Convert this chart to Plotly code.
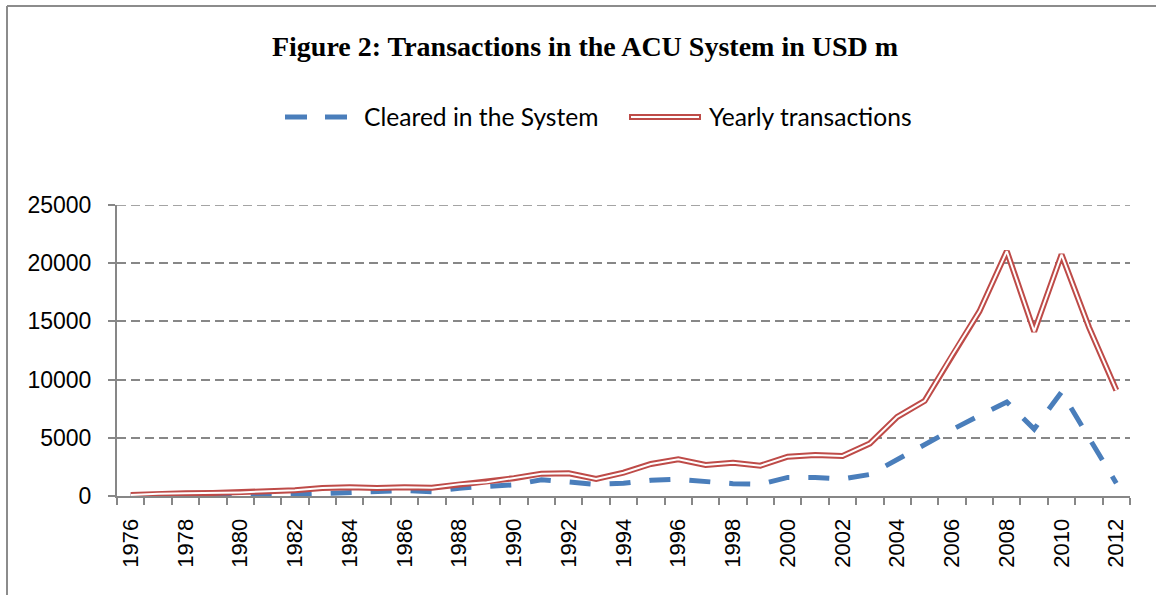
import plotly.graph_objects as go

# Data (USD m)
years = list(range(1976, 2013))
cleared = [10, 20, 30, 45, 60, 90, 115, 200, 280, 350, 470, 370, 670, 830,
           960, 1400, 1230, 1000, 1090, 1350, 1430, 1230, 1060, 1000, 1600,
           1600, 1460, 1850, 3150, 4400, 5700, 6900, 8080, 5750, 8940, 5000,
           1100]
yearly = [90, 200, 230, 260, 310, 400, 490, 690, 760, 680, 760, 700, 1000,
          1180, 1530, 1920, 1950, 1460, 2000, 2750, 3150, 2660, 2860, 2610,
          3380, 3520, 3440, 4510, 6800, 8170, 12090, 15860, 21030, 14140,
          20740, 14510, 9090]
tick_years = list(range(1976, 2013, 2))
y_ticks = [0, 5000, 10000, 15000, 20000, 25000]

title_text = "Figure 2: Transactions in the ACU System in USD m"
names = ["Cleared in the System", "Yearly transactions"]

blue = '#4a7ebb'
red = '#be4b48'
grey = '#878787'

# plot area in pixels (for placing legend / frame in paper coords)
L, R, T, B = 117, 1130, 205, 496
W, H = R - L, B - T


def px(x):
    return (x - L) / W


def py(y):
    return (B - y) / H


fig = go.Figure()

fig.add_trace(go.Scatter(
    x=years, y=cleared, name=names[0], mode='lines',
    line=dict(color=blue, width=5, dash='21px,19px'),
    hoverinfo='skip'
))
fig.add_trace(go.Scatter(
    x=years, y=yearly, name=names[1], mode='lines',
    line=dict(color=red, width=6),
    hoverinfo='skip'
))
fig.add_trace(go.Scatter(
    x=years, y=yearly, mode='lines',
    line=dict(color='white', width=2),
    hoverinfo='skip', showlegend=False
))

shapes = []
# top gridline (plotly skips the one on the plot edge)
shapes.append(dict(type='line', xref='paper', yref='y', layer='below',
                   x0=0, x1=1, y0=y_ticks[-1], y1=y_ticks[-1],
                   line=dict(color=grey, width=1.5, dash='9px,5px')))
# outer frame (only left and top edges visible)
shapes.append(dict(type='line', xref='paper', yref='paper',
                   x0=px(7), x1=px(1200), y0=py(6), y1=py(6),
                   line=dict(color='#8c8c8c', width=2)))
shapes.append(dict(type='line', xref='paper', yref='paper',
                   x0=px(7), x1=px(7), y0=py(6), y1=py(640),
                   line=dict(color='#8c8c8c', width=2)))
# legend symbols
for x0, x1 in [(285, 307), (325, 347)]:
    shapes.append(dict(type='line', xref='paper', yref='paper',
                       x0=px(x0), x1=px(x1), y0=py(117), y1=py(117),
                       line=dict(color=blue, width=5)))
shapes.append(dict(type='line', xref='paper', yref='paper',
                   x0=px(629), x1=px(701), y0=py(117), y1=py(117),
                   line=dict(color=red, width=6)))
shapes.append(dict(type='line', xref='paper', yref='paper',
                   x0=px(631), x1=px(699), y0=py(117), y1=py(117),
                   line=dict(color='white', width=2)))

annotations = [
    dict(text=names[0], x=px(362), y=py(117), xref='paper', yref='paper',
         xanchor='left', yanchor='middle', showarrow=False,
         font=dict(family='Lato', size=24.6, color='#000000')),
    dict(text=names[1], x=px(707), y=py(117), xref='paper', yref='paper',
         xanchor='left', yanchor='middle', showarrow=False,
         font=dict(family='Lato', size=24.6, color='#000000')),
]

fig.update_layout(
    title=dict(
        text="<b>" + title_text + "</b>",
        x=585 / 1156, xanchor='center',
        y=1 - 46 / 595, yanchor='middle',
        font=dict(family='Liberation Serif', size=28, color='#000000')
    ),
    xaxis=dict(
        range=[1975.5, 2012.5],
        tickvals=tick_years,
        ticktext=[str(y) for y in tick_years],
        tickangle=-90,
        ticks='',
        ticklabelstandoff=12,
        showgrid=False,
        zeroline=False,
        showline=True, linecolor=grey, linewidth=2,
        minor=dict(tick0=1975.5, dtick=1, ticks='outside', ticklen=7,
                   tickcolor=grey, tickwidth=2, showgrid=False),
        tickfont=dict(family='Liberation Sans', size=22, color='#000000'),
        automargin=False,
        fixedrange=True
    ),
    yaxis=dict(
        range=[0, 25000],
        tickvals=y_ticks,
        ticktext=[str(v) for v in y_ticks],
        ticks='outside', ticklen=7, tickcolor=grey, tickwidth=2,
        ticklabelstandoff=12,
        showgrid=True, gridcolor=grey, gridwidth=1.5, griddash='9px,5px',
        zeroline=False,
        showline=True, linecolor=grey, linewidth=2,
        tickfont=dict(family='Liberation Sans', size=23, color='#000000'),
        automargin=False,
        fixedrange=True
    ),
    shapes=shapes,
    annotations=annotations,
    showlegend=False,
    width=1156, height=595,
    margin=dict(l=L, r=1156 - R, t=T, b=595 - B),
    plot_bgcolor='white',
    paper_bgcolor='white'
)

# page body has a default 8px margin; remove it so the chart sits at 0,0
fig.write_html("out.html", config={'displayModeBar': False},
               post_script="document.body.style.margin='0';")
